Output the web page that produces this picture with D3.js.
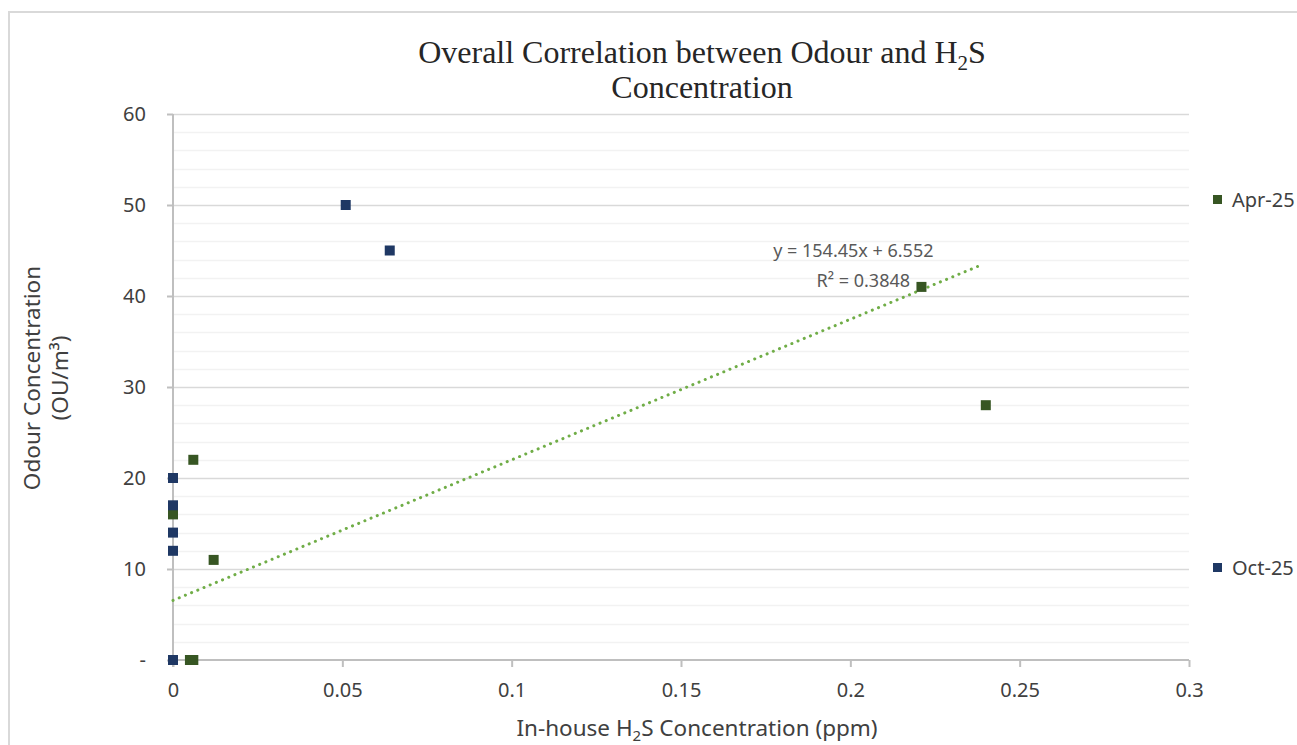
<!DOCTYPE html>
<html>
<head>
<meta charset="utf-8">
<script src="https://cdn.jsdelivr.net/npm/d3@7"></script>
<style>
  html, body { margin: 0; padding: 0; background: #fff; }
  svg { display: block; }
</style>
</head>
<body>
<svg id="chart" width="1297" height="745"></svg>
<script>
// ---- data ----
const aprX = [0.006, 0, 0.012, 0.005, 0.006, 0.221, 0.24];
const aprY = [22, 16, 11, 0, 0, 41, 28];
const octX = [0.051, 0.064, 0, 0, 0, 0, 0];
const octY = [50, 45, 20, 17, 14, 12, 0];
const seriesNames = ["Apr-25", "Oct-25"];
const seriesColors = ["#375623", "#1f3864"];
const trendSlope = 154.45;
const trendIntercept = 6.552;
const trendRange = [0, 0.238];
const xTicks = [0, 0.05, 0.1, 0.15, 0.2, 0.25, 0.3];
const xTickLabels = ["0", "0.05", "0.1", "0.15", "0.2", "0.25", "0.3"];
const yTicks = [0, 10, 20, 30, 40, 50, 60];
const yTickLabels = ["-", "10", "20", "30", "40", "50", "60"];
const yMinorStep = 2;

// ---- layout ----
const svg = d3.select("#chart");
const pL = 173, pR = 1189, pT = 114, pB = 660;
const x = d3.scaleLinear().domain([0, 0.3]).range([pL, pR]);
const y = d3.scaleLinear().domain([0, 60]).range([pB, pT]);
const font = "'Noto Sans', 'Open Sans', sans-serif";

// frame
svg.append("path")
  .attr("d", `M9,760 L9,12 L1310,12`)
  .attr("fill", "none").attr("stroke", "#d9d9d9").attr("stroke-width", 2);

// minor gridlines
const minor = d3.range(0, 60 + 0.001, yMinorStep).filter(v => v % 10 !== 0);
svg.append("g").selectAll("line").data(minor).join("line")
  .attr("x1", pL).attr("x2", pR)
  .attr("y1", d => Math.round(y(d)) + 0.5).attr("y2", d => Math.round(y(d)) + 0.5)
  .attr("stroke", "#f2f2f2").attr("stroke-width", 1.3);

// major gridlines
svg.append("g").selectAll("line").data(yTicks.filter(d => d > 0)).join("line")
  .attr("x1", pL).attr("x2", pR)
  .attr("y1", d => Math.round(y(d)) + 0.5).attr("y2", d => Math.round(y(d)) + 0.5)
  .attr("stroke", "#d9d9d9").attr("stroke-width", 1.3);

// y axis
const yAxis = d3.axisLeft(y).tickValues(yTicks).tickSize(6).tickPadding(21)
  .tickFormat((d, i) => yTickLabels[i]);
const gy = svg.append("g").attr("transform", `translate(${pL},0)`).call(yAxis);
gy.select(".domain").attr("stroke", "#bfbfbf").attr("stroke-width", 2)
  .attr("d", `M0,${pT}V${pB + 7}`);
gy.selectAll(".tick line").attr("stroke", "#bfbfbf").attr("stroke-width", 2);
gy.selectAll(".tick text").attr("font-family", font).attr("font-size", 20).attr("fill", "#404040");

// x axis
const xAxis = d3.axisBottom(x).tickValues(xTicks).tickSize(7).tickPadding(16)
  .tickFormat((d, i) => xTickLabels[i]);
const gx = svg.append("g").attr("transform", `translate(0,${pB})`).call(xAxis);
gx.select(".domain").attr("stroke", "#bfbfbf").attr("stroke-width", 2)
  .attr("d", `M${pL},0H${pR}`);
gx.selectAll(".tick line").attr("stroke", "#bfbfbf").attr("stroke-width", 2);
gx.selectAll(".tick text").attr("font-family", font).attr("font-size", 20).attr("fill", "#404040");

// trendline
svg.append("line")
  .attr("x1", x(trendRange[0])).attr("y1", y(trendSlope * trendRange[0] + trendIntercept))
  .attr("x2", x(trendRange[1])).attr("y2", y(trendSlope * trendRange[1] + trendIntercept))
  .attr("stroke", "#70ad47").attr("stroke-width", 3)
  .attr("stroke-dasharray", "0.1 6.6").attr("stroke-linecap", "round");

// points
const ms = 10;
function drawSeries(xs, ys, color) {
  svg.append("g").selectAll("rect").data(xs.map((v, i) => [v, ys[i]])).join("rect")
    .attr("x", d => x(d[0]) - ms / 2).attr("y", d => y(d[1]) - ms / 2)
    .attr("width", ms).attr("height", ms)
    .attr("fill", color);
}
drawSeries(aprX, aprY, seriesColors[0]);
drawSeries(octX, octY, seriesColors[1]);

// trendline label
const lblG = svg.append("g").attr("font-family", font).attr("font-size", 18).attr("fill", "#595959")
  .attr("text-anchor", "middle");
lblG.append("text").attr("x", x(0.2) + 3).attr("y", 257).text("y = 154.45x + 6.552");
lblG.append("text").attr("x", x(0.2) + 13).attr("y", 287).text("R² = 0.3848");

// legend
const legY = [200, 568];
seriesNames.forEach((n, i) => {
  svg.append("rect").attr("x", 1213).attr("y", legY[i] - 5).attr("width", 9).attr("height", 9)
    .attr("fill", seriesColors[i]);
  svg.append("text").attr("x", 1232).attr("y", legY[i] + 7)
    .attr("font-family", font).attr("font-size", 20).attr("fill", "#404040").text(n);
});

// title
const title = svg.append("text").attr("font-family", "'Liberation Serif', 'Times New Roman', serif")
  .attr("font-size", 32).attr("fill", "#262626").attr("text-anchor", "middle");
const t1 = title.append("tspan").attr("x", 702).attr("y", 63);
t1.append("tspan").text("Overall Correlation between Odour and H");
t1.append("tspan").attr("font-size", 21).attr("dy", 7).text("2");
t1.append("tspan").attr("dy", -7).text("S");
title.append("tspan").attr("x", 702).attr("y", 98).text("Concentration");

// x-axis title
const xt = svg.append("text").attr("font-family", font).attr("font-size", 22.5).attr("fill", "#404040")
  .attr("text-anchor", "middle").attr("x", x(0.15) + 16).attr("y", 736);
xt.append("tspan").text("In-house H");
xt.append("tspan").attr("font-size", 15).attr("dy", 5).text("2");
xt.append("tspan").attr("dy", -5).text("S Concentration (ppm)");

// y-axis title
const yt = svg.append("text").attr("font-family", font).attr("font-size", 22.5).attr("fill", "#404040")
  .attr("text-anchor", "middle").attr("transform", `translate(40,378) rotate(-90)`);
yt.append("tspan").attr("x", 0).attr("y", 0).text("Odour Concentration");
yt.append("tspan").attr("x", 0).attr("y", 28).text("(OU/m³)");
</script>
</body>
</html>
